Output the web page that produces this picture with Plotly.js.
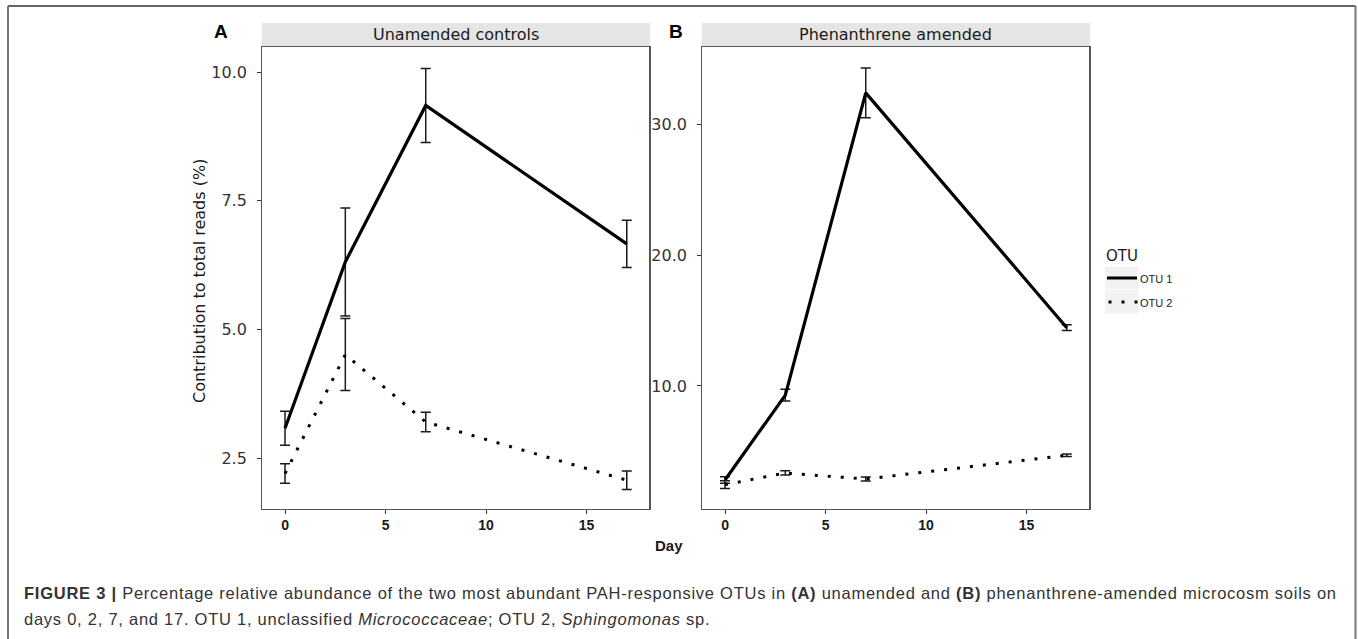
<!DOCTYPE html>
<html>
<head>
<meta charset="utf-8">
<script src="https://cdn.plot.ly/plotly-3.0.1.min.js"></script>
<style>
html,body{margin:0;padding:0;background:#fff;}
#chart{width:1358px;height:639px;}
g.annotation[data-index="9"] text, g.annotation[data-index="10"] text {letter-spacing:0.75px;}
</style>
</head>
<body>
<div id="chart"></div>
<script>
// ---- data ----
const days = [0, 3, 7, 17];
const otu1Unamended = [3.08, 6.31, 9.35, 6.66];
const otu1UnamendedSE = [0.33, 1.05, 0.72, 0.46];
const otu2Unamended = [2.20, 4.51, 3.20, 2.07];
const otu2UnamendedSE = [0.19, 0.70, 0.19, 0.18];
const otu1Phen = [2.81, 9.30, 32.40, 14.45];
const otu1PhenSE = [0.25, 0.45, 1.90, 0.22];
const otu2Phen = [2.45, 3.35, 2.88, 4.70];
const otu2PhenSE = [0.30, 0.17, 0.15, 0.10];
const seriesNames = ['OTU 1', 'OTU 2'];
const panelTitles = ['Unamended controls', 'Phenanthrene amended'];
const panelLetters = ['A', 'B'];
const xTicks = [0, 5, 10, 15];
const yTicksA = [2.5, 5.0, 7.5, 10.0];
const yTickTextA = ['2.5', '5.0', '7.5', '10.0'];
const yTicksB = [10, 20, 30];
const yTickTextB = ['10.0', '20.0', '30.0'];
const xTitle = 'Day';
const yTitle = 'Contribution to total reads (%)';
const legendTitle = 'OTU';
const caption1 = '<b>FIGURE 3 |</b> Percentage relative abundance of the two most abundant PAH-responsive OTUs in <b>(A)</b> unamended and <b>(B)</b> phenanthrene-amended microcosm soils on';
const caption2 = 'days 0, 2, 7, and 17. OTU 1, unclassified <i>Micrococcaceae</i>; OTU 2, <i>Sphingomonas</i> sp.';

// ---- geometry helpers (pixel -> paper) ----
const W = 1358, H = 639;
const px = x => x / W;
const py = y => 1 - y / H;
const panelA = [262.3, 649.3];
const panelB = [702.3, 1089.3];
const plotTop = 47, plotBot = 509;

const solid = {color: '#000', width: 3.2};
const dotted = {color: '#000', width: 3, dash: '3px,10px'};
function err(arr) {
  return {type: 'data', array: arr, visible: true, color: '#1a1a1a', thickness: 1.5, width: 5};
}

const traces = [
  {x: days, y: otu1Unamended, error_y: err(otu1UnamendedSE), mode: 'lines', line: solid, name: seriesNames[0], xaxis: 'x', yaxis: 'y', showlegend: false},
  {x: days, y: otu2Unamended, error_y: err(otu2UnamendedSE), mode: 'lines', line: dotted, name: seriesNames[1], xaxis: 'x', yaxis: 'y', showlegend: false},
  {x: days, y: otu1Phen, error_y: err(otu1PhenSE), mode: 'lines', line: solid, name: seriesNames[0], xaxis: 'x2', yaxis: 'y2', showlegend: false},
  {x: days, y: otu2Phen, error_y: err(otu2PhenSE), mode: 'lines', line: dotted, name: seriesNames[1], xaxis: 'x2', yaxis: 'y2', showlegend: false}
];

const xAxisBase = {
  range: [-1.13, 18.12], tickvals: xTicks, ticktext: xTicks.map(String),
  ticks: 'outside', ticklen: 4, tickwidth: 1, tickcolor: '#333',
  showgrid: false, zeroline: false, showline: true, mirror: true,
  linecolor: '#555', linewidth: 1.2, ticklabelstandoff: -1,
  tickfont: {family: 'Liberation Sans, Arial, sans-serif', size: 14, color: '#1a1a1a', weight: 'bold'},
  fixedrange: true
};
const yAxisBase = {
  ticks: 'outside', ticklen: 4, tickwidth: 1, tickcolor: '#333',
  showgrid: false, zeroline: false, showline: true, mirror: true,
  linecolor: '#555', linewidth: 1.2, ticklabelstandoff: 7,
  tickfont: {family: 'DejaVu Sans, sans-serif', size: 16, color: '#333'},
  fixedrange: true
};

const shapes = [
  // outer frame
  {type: 'line', xref: 'paper', yref: 'paper', x0: px(8), x1: px(1355.5), y0: py(6), y1: py(6), line: {color: '#666', width: 2}},
  {type: 'line', xref: 'paper', yref: 'paper', x0: px(8), x1: px(8), y0: py(6), y1: py(650), line: {color: '#777', width: 2}},
  {type: 'line', xref: 'paper', yref: 'paper', x0: px(1355.5), x1: px(1355.5), y0: py(6), y1: py(650), line: {color: '#777', width: 2}},
  // strips
  {type: 'rect', layer: 'below', xref: 'paper', yref: 'paper', x0: px(panelA[0] - 0.6), x1: px(panelA[1] + 0.6), y0: py(46.2), y1: py(23), fillcolor: '#e5e5e5', line: {width: 0}},
  {type: 'rect', layer: 'below', xref: 'paper', yref: 'paper', x0: px(panelB[0] - 0.6), x1: px(panelB[1] + 0.6), y0: py(46.2), y1: py(23), fillcolor: '#e5e5e5', line: {width: 0}},
  // legend key backgrounds
  {type: 'rect', layer: 'below', xref: 'paper', yref: 'paper', x0: px(1105), x1: px(1138), y0: py(289.5), y1: py(266.5), fillcolor: '#f2f2f2', line: {width: 0}},
  {type: 'rect', layer: 'below', xref: 'paper', yref: 'paper', x0: px(1105), x1: px(1138), y0: py(313.5), y1: py(290.5), fillcolor: '#f2f2f2', line: {width: 0}},
  // legend keys
  {type: 'line', xref: 'paper', yref: 'paper', x0: px(1107), x1: px(1137), y0: py(278), y1: py(278), line: {color: '#000', width: 3}},
  {type: 'line', xref: 'paper', yref: 'paper', x0: px(1108.5), x1: px(1138.5), y0: py(302), y1: py(302), line: {color: '#000', width: 3, dash: '3px,10px'}}
];

const ann = (text, x, y, font, extra) => Object.assign({text, x: px(x), y: py(y), xref: 'paper', yref: 'paper', showarrow: false, font, xanchor: 'center', yanchor: 'middle'}, extra || {});
const dejavu = s => ({family: 'DejaVu Sans, sans-serif', size: s, color: '#1a1a1a'});
const annotations = [
  ann(panelTitles[0], (panelA[0] + panelA[1]) / 2, 34.5, dejavu(16)),
  ann(panelTitles[1], (panelB[0] + panelB[1]) / 2, 34.5, dejavu(16)),
  ann('<b>' + panelLetters[0] + '</b>', 221, 31, {family: 'Liberation Sans, Arial, sans-serif', size: 19, color: '#000'}),
  ann('<b>' + panelLetters[1] + '</b>', 676, 31, {family: 'Liberation Sans, Arial, sans-serif', size: 19, color: '#000'}),
  ann(yTitle, 199, (plotTop + plotBot) / 2 + 3, dejavu(16), {textangle: -90}),
  ann('<b>' + xTitle + '</b>', 669, 545, {family: 'Liberation Sans, Arial, sans-serif', size: 15, color: '#1a1a1a'}),
  ann(legendTitle, 1104, 256, dejavu(15), {xanchor: 'left'}),
  ann(seriesNames[0], 1138, 278.5, {family: 'Liberation Sans, Arial, sans-serif', size: 11, color: '#1a1a1a'}, {xanchor: 'left'}),
  ann(seriesNames[1], 1138, 303, {family: 'Liberation Sans, Arial, sans-serif', size: 11, color: '#1a1a1a'}, {xanchor: 'left'}),
  ann(caption1, 22, 593, {family: 'Liberation Sans, Arial, sans-serif', size: 16.5, color: '#333'}, {xanchor: 'left', align: 'left'}),
  ann(caption2, 22, 619, {family: 'Liberation Sans, Arial, sans-serif', size: 16.5, color: '#333'}, {xanchor: 'left', align: 'left'})
];

const layout = {
  width: W, height: H,
  margin: {l: 0, r: 0, t: 0, b: 0},
  paper_bgcolor: '#fff', plot_bgcolor: '#fff',
  showlegend: false,
  xaxis: Object.assign({}, xAxisBase, {domain: [px(panelA[0]), px(panelA[1])], anchor: 'y'}),
  yaxis: Object.assign({}, yAxisBase, {domain: [py(plotBot), py(plotTop)], range: [1.51, 10.486], tickvals: yTicksA, ticktext: yTickTextA, anchor: 'x'}),
  xaxis2: Object.assign({}, xAxisBase, {domain: [px(panelB[0]), px(panelB[1])], anchor: 'y2'}),
  yaxis2: Object.assign({}, yAxisBase, {domain: [py(plotBot), py(plotTop)], range: [0.59, 35.91], tickvals: yTicksB, ticktext: yTickTextB, anchor: 'x2'}),
  shapes, annotations
};

Plotly.newPlot('chart', traces, layout, {displayModeBar: false, staticPlot: true});
</script>
</body>
</html>
